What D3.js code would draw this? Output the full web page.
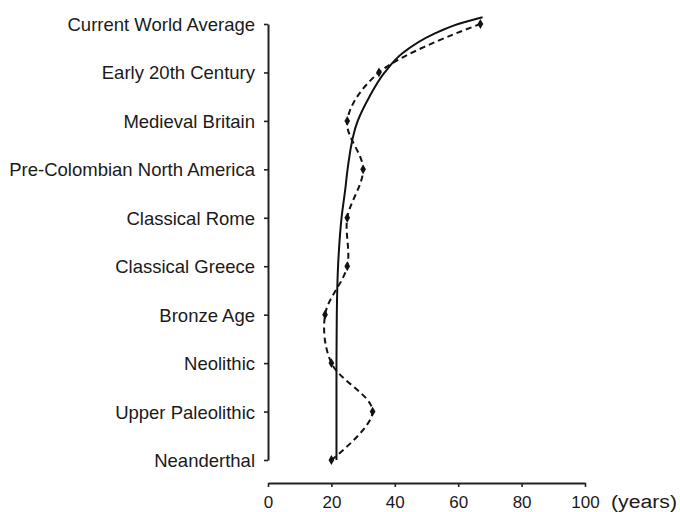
<!DOCTYPE html>
<html>
<head>
<meta charset="utf-8">
<script src="https://cdn.jsdelivr.net/npm/d3@7"></script>
<style>
  html, body { margin: 0; padding: 0; background: #fff; }
  svg { display: block; }
  text { font-family: "Liberation Sans", Arial, Helvetica, sans-serif; fill: #1a1a1a; }
</style>
</head>
<body>
<svg id="chart" width="680" height="512"></svg>
<script>
// Periods, oldest first (bottom of the chart to the top)
const periods = [
  "Neanderthal",
  "Upper Paleolithic",
  "Neolithic",
  "Bronze Age",
  "Classical Greece",
  "Classical Rome",
  "Pre-Colombian North America",
  "Medieval Britain",
  "Early 20th Century",
  "Current World Average"
];

// Life expectancy (years) for each period
const lifeExpectancy = [20, 33, 20, 18, 25, 25, 30, 25, 35, 67];

// Fitted trend: position along the period axis and years
const trendIndex = [0, 2, 3, 4, 5, 5.6, 6, 7, 7.5, 8, 8.4, 8.8, 9, 9.14];
const trendYears = [21.6, 21.6, 21.7, 22.1, 23.2, 24.4, 25.1, 28.3, 32.0, 36.8, 42.5, 52.5, 60.0, 67.7];

// Horizontal axis ticks
const yearTicks = [0, 20, 40, 60, 80, 100];

const svg = d3.select("#chart");

const x = d3.scaleLinear().domain([0, 100]).range([268, 585]);
const y = d3.scaleLinear().domain([0, periods.length - 1]).range([460, 24]);

// Vertical axis with period names
const yAxis = svg.append("g")
  .attr("transform", "translate(268,0)")
  .call(d3.axisLeft(y)
    .tickValues(d3.range(periods.length))
    .tickFormat(i => periods[i])
    .tickSize(4)
    .tickSizeOuter(0)
    .tickPadding(9));
yAxis.select(".domain").attr("stroke", "#222").attr("stroke-width", 2);
yAxis.selectAll(".tick line").attr("stroke", "#222").attr("stroke-width", 1.6);
yAxis.selectAll(".tick text")
  .attr("font-size", "18.5px")
  .attr("font-family", "'Liberation Sans', Arial, sans-serif")
  .attr("fill", "#1a1a1a")
  .attr("dy", "0.35em");

// Horizontal axis in years
const xAxis = svg.append("g")
  .attr("transform", "translate(0,483)")
  .call(d3.axisBottom(x)
    .tickValues(yearTicks)
    .tickSize(4)
    .tickSizeOuter(0)
    .tickPadding(9));
xAxis.select(".domain").attr("stroke", "#222").attr("stroke-width", 2);
xAxis.selectAll(".tick line").attr("stroke", "#222").attr("stroke-width", 1.6);
xAxis.selectAll(".tick text")
  .attr("font-size", "17px")
  .attr("font-family", "'Liberation Sans', Arial, sans-serif")
  .attr("fill", "#1a1a1a");

svg.append("text")
  .attr("x", x(100) + 26)
  .attr("y", 508)
  .attr("font-size", "18px")
  .attr("textLength", 66)
  .attr("lengthAdjust", "spacingAndGlyphs")
  .text("(years)");

// Fitted trend (solid)
const trendPoints = trendIndex.map((t, i) => [t, trendYears[i]]);
svg.append("path")
  .datum(trendPoints)
  .attr("fill", "none")
  .attr("stroke", "#111")
  .attr("stroke-width", 2)
  .attr("d", d3.line()
    .x(d => x(d[1]))
    .y(d => y(d[0]))
    .curve(d3.curveMonotoneY));

// Observed values (dashed, smoothed)
svg.append("path")
  .datum(lifeExpectancy)
  .attr("fill", "none")
  .attr("stroke", "#111")
  .attr("stroke-width", 2)
  .attr("stroke-dasharray", "6,4")
  .attr("d", d3.line()
    .x(d => x(d))
    .y((d, i) => y(i))
    .curve(d3.curveCatmullRom.alpha(0.5)));

// Diamond markers
svg.append("g")
  .selectAll("path")
  .data(lifeExpectancy)
  .join("path")
  .attr("transform", (d, i) => `translate(${x(d)},${y(i)})`)
  .attr("d", d3.symbol(d3.symbolDiamond, 28))
  .attr("fill", "#111");
</script>
</body>
</html>
